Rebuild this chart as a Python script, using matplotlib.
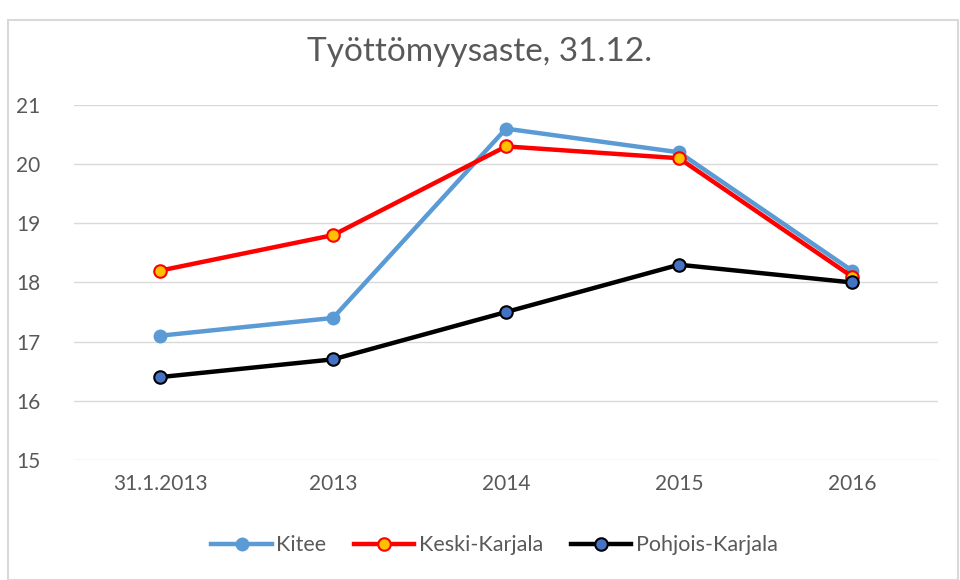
import matplotlib.pyplot as plt
from matplotlib.patches import Rectangle

plt.rcParams['font.family'] = ['Lato', 'DejaVu Sans']

categories = ["31.1.2013", "2013", "2014", "2015", "2016"]
kitee = [17.1, 17.4, 20.6, 20.2, 18.2]
keski_karjala = [18.2, 18.8, 20.3, 20.1, 18.1]
pohjois_karjala = [16.4, 16.7, 17.5, 18.3, 18.0]

fig = plt.figure(figsize=(9.6, 5.8), dpi=100)
ax = fig.add_axes([0.0766, 0.207, 0.9010, 0.612])

x = range(len(categories))
ax.plot(x, kitee, color="#5B9BD5", lw=3.2, marker="o", ms=9,
        mfc="#5B9BD5", mec="#5B9BD5", label="Kitee", zorder=3)
ax.plot(x, keski_karjala, color="#FF0000", lw=3.2, marker="o", ms=9,
        mfc="#FFC000", mec="#FF0000", mew=1.5, label="Keski-Karjala", zorder=4)
ax.plot(x, pohjois_karjala, color="#000000", lw=3.2, marker="o", ms=9,
        mfc="#4472C4", mec="#000000", mew=1.5, label="Pohjois-Karjala", zorder=5)

ax.set_xlim(-0.5, len(categories) - 0.5)
ax.set_ylim(15, 21)
ax.set_yticks(range(15, 22))
ax.set_xticks(list(x))
ax.set_xticklabels(categories)
ax.grid(axis="y", color="#D9D9D9", lw=1)
ax.set_axisbelow(True)
for s in ax.spines.values():
    s.set_visible(False)
ax.tick_params(length=0, labelsize=15, labelcolor="#595959", pad=10)
ax.tick_params(axis="y", pad=24)

fig.text(0.5, 0.91, "Työttömyysaste, 31.12.", ha="center", va="center",
         fontsize=24, color="#595959")

fig.legend(loc="center", bbox_to_anchor=(0.515, 0.06), ncol=3, frameon=False,
           fontsize=15.5, labelcolor="#595959", handlelength=2.8,
           columnspacing=1.3, handletextpad=0.2)

fig.patches.append(Rectangle((0.008, 0.0), 0.99, 0.965, transform=fig.transFigure,
                             fill=False, edgecolor="#D9D9D9", lw=1.5))

fig.savefig("out.png", dpi=100)
